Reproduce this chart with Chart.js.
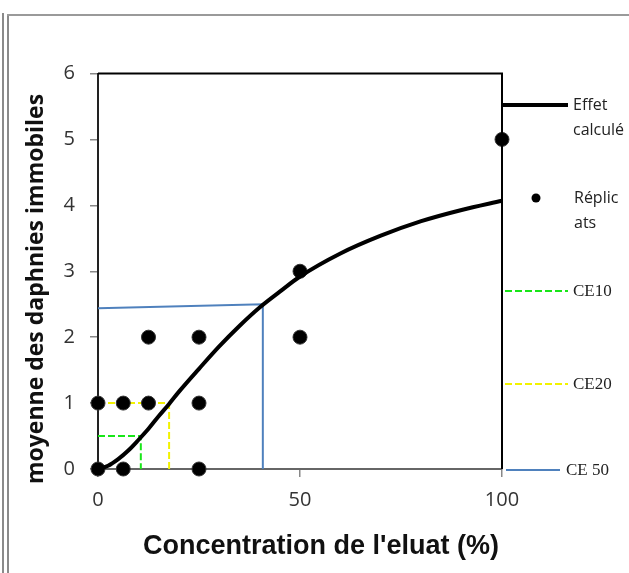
<!DOCTYPE html>
<html>
<head>
<meta charset="utf-8">
<script src="https://cdn.jsdelivr.net/npm/chart.js@4/dist/chart.umd.min.js"></script>
<style>
	body { margin: 0; background: #fff; }
	#wrap { position: relative; width: 629px; height: 573px; }
	#frameL1 { position: absolute; left: 2px; top: 13px; width: 2px; height: 560px; background: #8a8a8a; }
	#frameL2 { position: absolute; left: 7px; top: 15px; width: 2px; height: 558px; background: #8a8a8a; }
	#frameT { position: absolute; left: 7px; top: 14px; width: 622px; height: 2px; background: #9a9a9a; }
	canvas { position: absolute; left: 0; top: 0; }
</style>
</head>
<body>
<div id="wrap">
	<div id="frameL1"></div>
	<div id="frameL2"></div>
	<div id="frameT"></div>
	<canvas id="chart" width="629" height="573"></canvas>
</div>
<script>
// fitted curve
var curveX = [0, 2.5, 5, 7.5, 10, 12.5, 15, 17.5, 20, 25, 30, 35, 40, 45, 50, 60, 70, 80, 90, 100];
var curveY = [0, 0.05, 0.15, 0.28, 0.44, 0.61, 0.8, 0.98, 1.17, 1.52, 1.86, 2.17, 2.45, 2.69, 2.92, 3.27, 3.54, 3.76, 3.93, 4.07];

// replicates
var repX = [0, 0, 6.25, 6.25, 12.5, 12.5, 25, 25, 25, 50, 50, 100];
var repY = [0, 1, 0, 1, 1, 2, 0, 1, 2, 2, 3, 5];

// CE guide lines
var ce10X = [0, 10.6, 10.6];
var ce10Y = [0.5, 0.5, 0];
var ce20X = [0, 17.6, 17.6];
var ce20Y = [1, 1, 0];
var ce50X = [0, 40.8, 40.8];
var ce50Y = [2.44, 2.5, 0];

var xTicks = [0, 50, 100];
var yTicks = [0, 1, 2, 3, 4, 5, 6];

var xTitle = "Concentration de l'eluat (%)";
var yTitle = 'moyenne des daphnies immobiles';

function pts(xs, ys){
	var out = [];
	for (var i = 0; i < xs.length; i++) {
		out.push({x: xs[i], y: ys[i]});
	}
	return out;
}

// legend + titles + top/right border of the plot
var extras = {
	id: 'extras',
	afterDraw: function(chart){
		var ctx = chart.ctx;
		var a = chart.chartArea;
		ctx.save();
		ctx.strokeStyle = '#000';
		ctx.lineWidth = 2;
		ctx.beginPath();
		ctx.moveTo(a.left, a.top);
		ctx.lineTo(a.right, a.top);
		ctx.lineTo(a.right, a.bottom);
		ctx.stroke();

		// legend
		var ds = chart.data.datasets;
		ctx.textBaseline = 'middle';
		ctx.textAlign = 'left';
		// Effet calculé
		ctx.strokeStyle = ds[0].borderColor;
		ctx.lineWidth = ds[0].borderWidth;
		ctx.beginPath(); ctx.moveTo(503, 105); ctx.lineTo(568, 105); ctx.stroke();
		ctx.fillStyle = '#222';
		ctx.font = '16px "Open Sans"';
		ctx.fillText('Effet', 573, 105);
		ctx.fillText('calculé', 573, 130);
		// Réplicats
		ctx.fillStyle = '#000';
		ctx.beginPath(); ctx.arc(536, 198, 4.5, 0, Math.PI * 2); ctx.fill();
		ctx.fillStyle = '#222';
		ctx.fillText('Réplic', 574, 198);
		ctx.fillText('ats', 574, 223);
		// CE lines
		var ce = [[2, 291, 505, 568, 'CE10', 573], [3, 384, 505, 568, 'CE20', 573], [4, 470, 506, 560, 'CE 50', 566]];
		ctx.font = '17px "Liberation Serif"';
		ce.forEach(function(c){
			var d = ds[c[0]];
			ctx.strokeStyle = d.borderColor;
			ctx.lineWidth = d.borderWidth;
			ctx.setLineDash(d.borderDash || []);
			ctx.beginPath(); ctx.moveTo(c[2], c[1]); ctx.lineTo(c[3], c[1]); ctx.stroke();
			ctx.setLineDash([]);
			ctx.fillStyle = '#222';
			ctx.fillText(c[4], c[5], c[1] + 1);
		});

		// axis titles
		ctx.fillStyle = '#111';
		ctx.textAlign = 'center';
		ctx.font = 'bold 27px "Liberation Sans"';
		ctx.fillText(xTitle, 321, 547);
		ctx.translate(36, 289);
		ctx.rotate(-Math.PI / 2);
		ctx.font = 'bold 23px "Open Sans"';
		ctx.fillText(yTitle, 0, 0);
		ctx.restore();
	}
};

var ctx = document.getElementById('chart').getContext('2d');
var chart = new Chart(ctx, {
	type: 'scatter',
	data: {
		datasets: [{
			label: 'Effet calculé',
			type: 'line',
			data: pts(curveX, curveY),
			borderColor: '#000',
			borderWidth: 4,
			pointRadius: 0,
			cubicInterpolationMode: 'monotone',
			fill: false,
			clip: false,
			order: 1
		}, {
			label: 'Réplicats',
			data: pts(repX, repY),
			backgroundColor: '#000',
			borderColor: '#333',
			borderWidth: 1,
			pointRadius: 7,
			clip: false,
			order: 2
		}, {
			label: 'CE10',
			type: 'line',
			data: pts(ce10X, ce10Y),
			borderColor: '#19e619',
			borderWidth: 2,
			borderDash: [7, 3],
			pointRadius: 0,
			fill: false,
			order: 3
		}, {
			label: 'CE20',
			type: 'line',
			data: pts(ce20X, ce20Y),
			borderColor: '#f2f200',
			borderWidth: 2,
			borderDash: [7, 3],
			pointRadius: 0,
			fill: false,
			order: 4
		}, {
			label: 'CE 50',
			type: 'line',
			data: pts(ce50X, ce50Y),
			borderColor: '#4f81bd',
			borderWidth: 2,
			pointRadius: 0,
			fill: false,
			order: 5
		}]
	},
	options: {
		responsive: false,
		animation: false,
		layout: { padding: { left: 0, top: 73.5, right: 127, bottom: 0 } },
		plugins: {
			legend: { display: false },
			tooltip: { enabled: false }
		},
		scales: {
			x: {
				type: 'linear',
				min: 0,
				max: 100,
				afterFit: function(scale){ scale.height = 104; },
				afterBuildTicks: function(scale){
					scale.ticks = xTicks.map(function(v){ return {value: v}; });
				},
				grid: { drawOnChartArea: false, tickLength: 8, color: '#888', lineWidth: 1.5 },
				border: { color: '#666', width: 2 },
				ticks: { color: '#333', padding: 11, font: { family: 'Open Sans', size: 20 } }
			},
			y: {
				min: 0,
				max: 6,
				afterFit: function(scale){ scale.width = 98; },
				afterBuildTicks: function(scale){
					scale.ticks = yTicks.map(function(v){ return {value: v}; });
				},
				grid: { drawOnChartArea: false, tickLength: 8, color: '#888', lineWidth: 1.5 },
				border: { color: '#222', width: 2 },
				ticks: { color: '#333', padding: 15, font: { family: 'Open Sans', size: 20 } }
			}
		}
	},
	plugins: [extras]
});
</script>
</body>
</html>
